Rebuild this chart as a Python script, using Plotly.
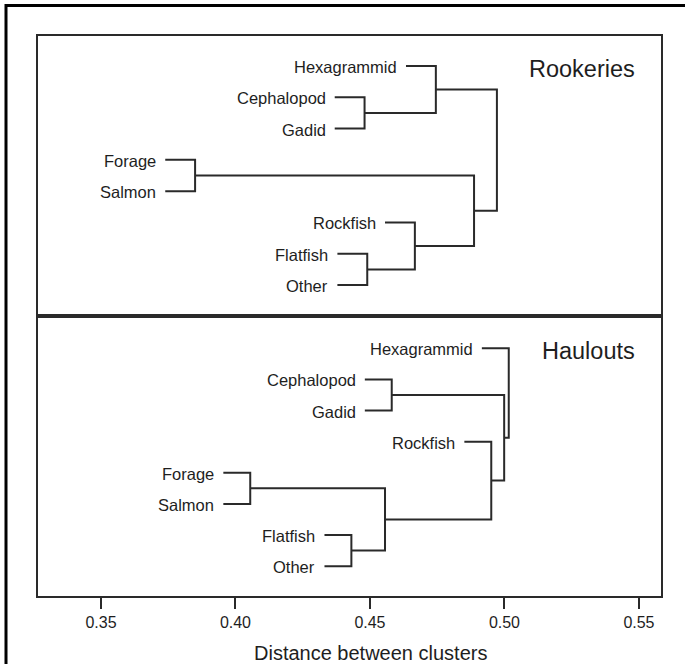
import plotly.graph_objects as go
from plotly.subplots import make_subplots

# ---------------- data ----------------
rook_leaves = ["Hexagrammid", "Cephalopod", "Gadid", "Forage", "Salmon", "Rockfish", "Flatfish", "Other"]
# merges: (name, left child, right child, distance)
rook_merges = [
    ("CG", "Cephalopod", "Gadid", 0.448),
    ("HCG", "Hexagrammid", "CG", 0.4745),
    ("FS", "Forage", "Salmon", 0.385),
    ("FO", "Flatfish", "Other", 0.449),
    ("RFO", "Rockfish", "FO", 0.4667),
    ("FSRFO", "FS", "RFO", 0.4887),
    ("ROOT", "HCG", "FSRFO", 0.4972),
]

haul_leaves = ["Hexagrammid", "Cephalopod", "Gadid", "Rockfish", "Forage", "Salmon", "Flatfish", "Other"]
haul_merges = [
    ("CG", "Cephalopod", "Gadid", 0.4581),
    ("FS", "Forage", "Salmon", 0.4055),
    ("FO", "Flatfish", "Other", 0.4431),
    ("FSFO", "FS", "FO", 0.4556),
    ("RFSFO", "Rockfish", "FSFO", 0.4951),
    ("CGR", "CG", "RFSFO", 0.4999),
    ("ROOT", "Hexagrammid", "CGR", 0.5016),
]

tick_vals = [0.35, 0.40, 0.45, 0.50, 0.55]
tick_text = ["0.35", "0.40", "0.45", "0.50", "0.55"]
panel_titles = ["Rookeries", "Haulouts"]
x_title = "Distance between clusters"

# ---------------- style ----------------
FONT = "Liberation Sans, Arial, Helvetica, sans-serif"
LINE_COLOR = "#2a2a2a"
TEXT_COLOR = "#1e1e1e"
XR = [0.3266, 0.5582]
STUB = 0.0111  # leaf stub length in distance units

fig = make_subplots(rows=2, cols=1, shared_xaxes=True, vertical_spacing=0)


def dendro(leaves, merges, row, stub):
    ypos = {name: i for i, name in enumerate(leaves)}
    xpos = {}
    parent_h = {}
    for name, a, b, h in merges:
        parent_h[a] = h
        parent_h[b] = h
    for lf in leaves:
        xpos[lf] = parent_h[lf] - stub
    xs, ys = [], []
    for name, a, b, h in merges:
        ya, yb = ypos[a], ypos[b]
        xs += [xpos[a], h, h, xpos[b], None]
        ys += [ya, ya, yb, yb, None]
        xpos[name] = h
        ypos[name] = (ya + yb) / 2
    fig.add_trace(go.Scatter(x=xs, y=ys, mode="lines",
                             line=dict(color=LINE_COLOR, width=2),
                             hoverinfo="skip", showlegend=False), row=row, col=1)
    yref = "y" if row == 1 else "y2"
    xref = "x" if row == 1 else "x2"
    for lf in leaves:
        fig.add_annotation(x=xpos[lf], y=ypos[lf], xref=xref, yref=yref,
                           text=lf, showarrow=False, xanchor="right", yanchor="middle",
                           xshift=-7, yshift=-1,
                           font=dict(family=FONT, size=16.5, color=TEXT_COLOR))


dendro(rook_leaves, rook_merges, 1, STUB)
dendro(haul_leaves, haul_merges, 2, 0.0100)

axis_common = dict(showline=True, mirror=True, linecolor=LINE_COLOR, linewidth=2,
                   showgrid=False, zeroline=False)
fig.update_xaxes(range=XR, **axis_common)
fig.update_xaxes(showticklabels=False, ticks="", row=1, col=1)
fig.update_xaxes(tickvals=tick_vals, ticktext=tick_text, ticks="outside", ticklen=11,
                 tickwidth=2, tickcolor=LINE_COLOR, showticklabels=True,
                 tickfont=dict(family=FONT, size=16, color=TEXT_COLOR), row=2, col=1)
fig.update_yaxes(showticklabels=False, ticks="", **axis_common)
fig.update_yaxes(range=[7.99, -0.959], row=1, col=1)
fig.update_yaxes(range=[7.96, -1.04], row=2, col=1)

fig.add_annotation(x=0.962, y=(316 - 69) / 280, xref="paper", yref="y domain",
                   text=panel_titles[0], showarrow=False, xanchor="right", yanchor="middle",
                   font=dict(family=FONT, size=23.5, color=TEXT_COLOR))
fig.add_annotation(x=0.962, y=(596 - 351) / 280, xref="paper", yref="y2 domain",
                   text=panel_titles[1], showarrow=False, xanchor="right", yanchor="middle",
                   font=dict(family=FONT, size=23.5, color=TEXT_COLOR))
fig.add_annotation(x=(370 - 38) / 623, y=(596 - 653) / 560, xref="paper", yref="paper",
                   text=x_title, showarrow=False, xanchor="center", yanchor="middle",
                   font=dict(family=FONT, size=20, color=TEXT_COLOR))

# outer frame (cut off at right and bottom)
fig.add_shape(type="rect", xref="paper", yref="paper",
              x0=(6 - 38) / 623, x1=1.2, y0=-0.3, y1=(596 - 5.5) / 560,
              line=dict(color="black", width=3), fillcolor="rgba(0,0,0,0)", layer="above")

fig.update_layout(width=685, height=664, margin=dict(l=38, r=24, t=36, b=68),
                  paper_bgcolor="white", plot_bgcolor="white", showlegend=False)

fig.write_html("out.html", config={"displayModeBar": False},
               post_script="document.body.style.margin='0';document.body.style.overflow='hidden';")
